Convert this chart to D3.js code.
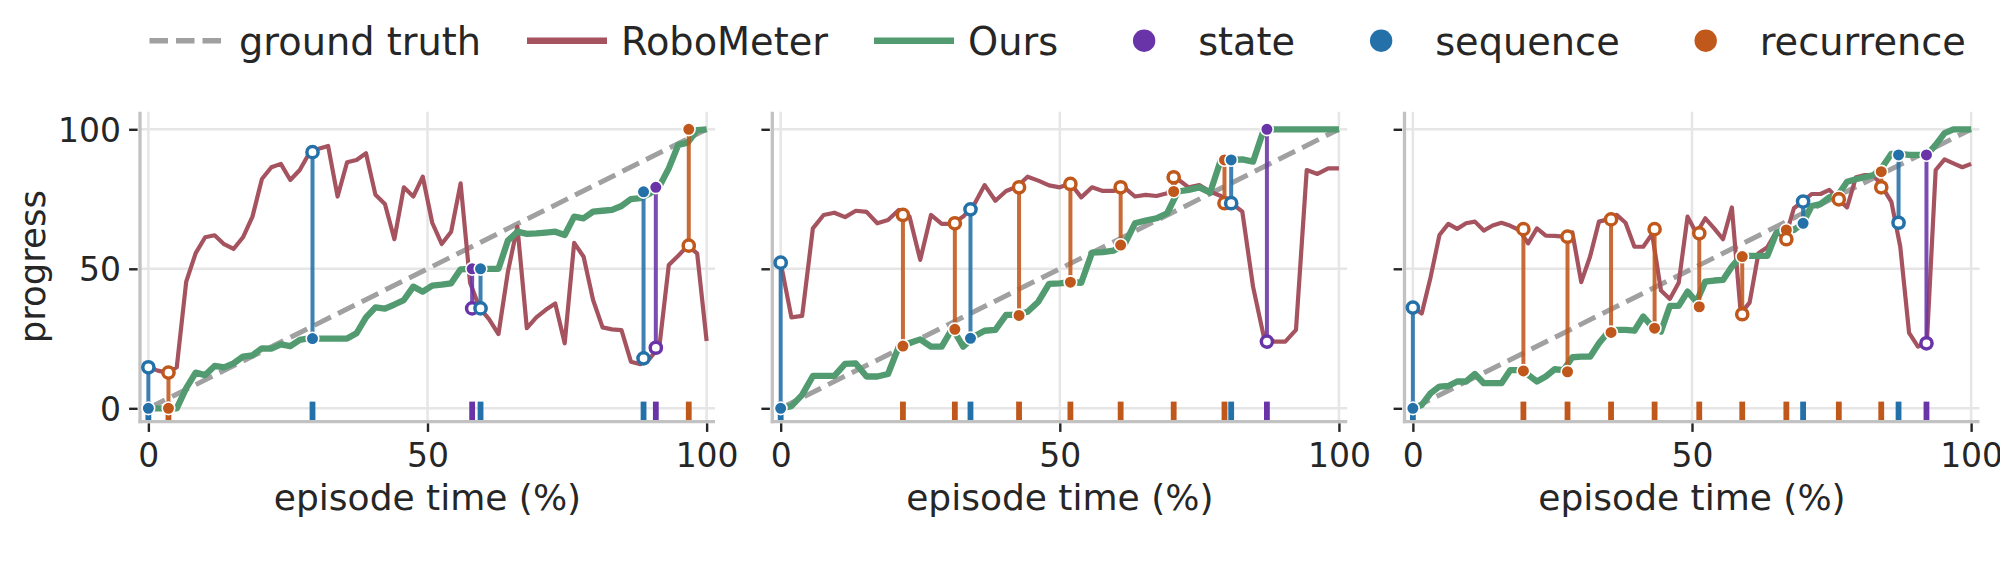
<!DOCTYPE html>
<html>
<head>
<meta charset="utf-8">
<script src="https://cdn.jsdelivr.net/npm/d3@7"></script>
<style>
  html, body { margin: 0; padding: 0; background: #fff; }
  svg { display: block; font-family: "DejaVu Sans", sans-serif; }
</style>
</head>
<body>
<svg id="chart" width="2000" height="564"></svg>
<script>
// tick values and legend labels
const xTicks = [0, 50, 100];
const yTicks = [0, 50, 100];
const legendLabels = ['ground truth', 'RoboMeter', 'Ours', 'state', 'sequence', 'recurrence'];

// episode 1 (60 evenly spaced samples over the episode)
const robo1 = [14.7, 13.5, 12.8, 14.7, 45.4, 55.6, 61.3, 62.0, 58.8, 57.1,
  61.3, 68.7, 82.2, 86.4, 87.6, 81.8, 85.4, 91.4, 93.0, 94.0,
  75.9, 88.2, 89.0, 91.4, 76.5, 73.2, 60.6, 79.2, 75.9, 83.0,
  66.5, 58.9, 63.3, 80.6, 45.0, 36.0, 32.0, 26.6, 49.0, 65.1,
  28.7, 32.6, 35.3, 37.6, 23.3, 59.3, 54.3, 38.8, 29.0, 28.3,
  28.0, 16.7, 15.8, 17.9, 22.0, 51.4, 54.7, 58.2, 55.5, 24.1];
const ours1 = [0, 0, 0, 0, 7.2, 12.8, 11.9, 15.2, 14.7, 16.1,
  18.5, 19.0, 21.5, 21.4, 22.9, 22.3, 24.5, 25.1, 25.0, 25.0,
  25.0, 25.0, 26.9, 32.6, 36.2, 35.7, 37.2, 38.8, 43.6, 41.8,
  44.0, 44.3, 44.8, 49.8, 50.0, 50.0, 50.0, 50.0, 60.1, 63.3,
  62.5, 62.7, 63.0, 63.3, 62.1, 68.7, 68.1, 70.5, 70.8, 71.1,
  72.5, 75.0, 75.3, 77.0, 79.5, 86.0, 94.4, 95.2, 99.7, 100];
const evKind1 = ['sequence', 'recurrence', 'sequence', 'state', 'sequence', 'sequence', 'state', 'recurrence'];
const evTime1 = [0, 3.6, 29.4, 58.0, 59.5, 88.7, 90.9, 96.8];
const evOurs1 = [0, 0, 25.0, 50.0, 50.0, 77.6, 79.2, 100];
const evRobo1 = [14.7, 12.8, 91.8, 35.8, 35.8, 17.9, 21.7, 58.3];

// episode 2 (53 samples)
const robo2 = [52.2, 32.6, 33.1, 64.5, 69.3, 70.1, 68.5, 70.8, 70.4, 66.3,
  67.5, 71.1, 68.7, 53.2, 69.3, 66.1, 66.1, 68.7, 72.9, 80.0,
  74.4, 77.9, 79.4, 83.0, 81.6, 79.9, 79.2, 80.6, 75.6, 79.2,
  77.9, 77.9, 79.2, 75.9, 76.5, 76.1, 77.1, 82.1, 79.2, 80.0,
  77.7, 76.1, 73.5, 70.5, 43.6, 25.7, 23.9, 23.9, 28.1, 85.4,
  84.0, 86.0, 86.0];
const ours2 = [0, 0.8, 4.8, 11.6, 11.6, 11.6, 15.9, 16.1, 11.4, 11.4,
  12.3, 22.1, 23.4, 24.7, 22.1, 22.1, 28.7, 22.1, 25.7, 27.8,
  28.1, 33.5, 33.5, 34.6, 38.2, 44.6, 44.8, 45.2, 45.0, 55.8,
  56.0, 56.5, 58.5, 66.3, 67.3, 68.1, 69.9, 77.7, 78.3, 79.2,
  77.3, 89.0, 89.0, 89.2, 88.4, 99.8, 100, 100, 100, 100,
  100, 100, 100];
const evKind2 = ['sequence', 'recurrence', 'recurrence', 'sequence', 'recurrence', 'recurrence',
  'recurrence', 'recurrence', 'recurrence', 'sequence', 'state'];
const evTime2 = [0, 21.9, 31.2, 34.0, 42.7, 51.9, 60.9, 70.4, 79.5, 80.7, 87.1];
const evOurs2 = [0, 22.3, 28.3, 25.1, 33.3, 45.2, 58.5, 77.7, 89.0, 89.0, 100];
const evRobo2 = [52.2, 69.3, 66.3, 71.3, 79.2, 80.4, 79.2, 82.8, 73.5, 73.5, 23.9];

// episode 3 (64 samples)
const robo3 = [36.1, 34.0, 47.0, 62.1, 66.1, 64.3, 66.3, 66.9, 63.7, 65.5,
  66.5, 65.4, 63.9, 59.1, 64.5, 61.9, 61.8, 61.5, 63.0, 45.2,
  54.4, 66.9, 67.7, 69.3, 66.5, 57.9, 57.9, 62.5, 42.2, 39.2,
  45.0, 68.7, 62.7, 68.1, 64.5, 60.6, 72.0, 34.0, 37.9, 55.6,
  57.7, 63.3, 60.9, 71.7, 74.1, 76.8, 76.8, 78.3, 74.9, 72.0,
  82.8, 83.6, 83.6, 79.2, 74.0, 58.0, 27.0, 22.1, 23.3, 85.4,
  89.2, 87.8, 86.4, 87.6];
const ours3 = [0, 1.2, 5.4, 7.8, 8.0, 9.6, 9.6, 12.3, 9.0, 9.0,
  9.0, 13.7, 13.7, 12.0, 9.6, 11.4, 14.0, 13.7, 18.3, 18.5,
  18.5, 23.3, 27.2, 28.1, 28.1, 27.8, 32.9, 29.3, 27.5, 36.7,
  36.7, 41.8, 38.2, 45.4, 45.8, 46.0, 50.8, 54.4, 54.6, 54.6,
  54.6, 62.7, 64.5, 63.9, 66.3, 72.5, 73.2, 75.6, 76.5, 81.2,
  82.1, 82.8, 83.6, 86.6, 91.2, 91.2, 90.8, 90.8, 90.8, 94.4,
  98.6, 100, 100, 100];
const evKind3 = ['sequence', 'recurrence', 'recurrence', 'recurrence', 'recurrence', 'recurrence',
  'recurrence', 'recurrence', 'sequence', 'recurrence', 'recurrence', 'sequence', 'state'];
const evTime3 = [0, 19.8, 27.7, 35.5, 43.3, 51.3, 59.0, 66.9, 69.9, 76.3, 83.9, 87.0, 92.0];
const evOurs3 = [0, 13.4, 13.1, 27.2, 28.7, 36.4, 54.4, 63.9, 66.3, 75.6, 84.8, 90.8, 90.8];
const evRobo3 = [36.1, 64.2, 61.5, 67.7, 64.2, 62.7, 33.7, 60.6, 74.1, 74.9, 79.2, 66.5, 23.3];


const colors = {
    'ground truth': '#a0a0a0',
    'RoboMeter': '#a65360',
    'Ours': '#529b70',
    'state': '#6934a8',
    'sequence': '#2470a9',
    'recurrence': '#c0571b'
};
const textColor = '#262626';

// layout
const panelLeft = [140, 772.3, 1404.5];
const panelTop = 111.7;
const panelW = 575;
const panelH = 310;

const x = d3.scaleLinear().domain([-1.5, 101.5]).range([0, panelW]);
const y = d3.scaleLinear().domain([-4.8, 106.3]).range([panelH, 0]);

// series are evenly sampled over episode time
const line = d3.line()
    .x((d, i, arr) => x(i * 100 / (arr.length - 1)))
    .y(d => y(d));

const episodes = [
    {robo: robo1, ours: ours1, kind: evKind1, time: evTime1, evOurs: evOurs1, evRobo: evRobo1},
    {robo: robo2, ours: ours2, kind: evKind2, time: evTime2, evOurs: evOurs2, evRobo: evRobo2},
    {robo: robo3, ours: ours3, kind: evKind3, time: evTime3, evOurs: evOurs3, evRobo: evRobo3}
];

const svg = d3.select('#chart');

episodes.forEach((ep, p) => {
    const g = svg.append('g')
        .attr('transform', `translate(${panelLeft[p]},${panelTop})`);

    // grid
    g.append('g').selectAll('line').data(yTicks).join('line')
        .attr('x1', 0).attr('x2', panelW)
        .attr('y1', d => y(d)).attr('y2', d => y(d))
        .attr('stroke', '#e6e6e6').attr('stroke-width', 2.5);
    g.append('g').selectAll('line').data(xTicks).join('line')
        .attr('x1', d => x(d)).attr('x2', d => x(d))
        .attr('y1', 0).attr('y2', panelH)
        .attr('stroke', '#e6e6e6').attr('stroke-width', 2.5);

    // spines
    g.append('line')
        .attr('x1', 0).attr('x2', 0).attr('y1', 0).attr('y2', panelH + 1.6)
        .attr('stroke', '#c2c2c2').attr('stroke-width', 3.3);
    g.append('line')
        .attr('x1', -1.6).attr('x2', panelW).attr('y1', panelH).attr('y2', panelH)
        .attr('stroke', '#c2c2c2').attr('stroke-width', 3.3);

    // axes
    const xAxis = g.append('g')
        .attr('transform', `translate(0,${panelH + 1.7})`)
        .call(d3.axisBottom(x).tickValues(xTicks).tickSize(8.5).tickPadding(12));
    const yAxis = g.append('g')
        .attr('transform', 'translate(-2.4,0)')
        .call(d3.axisLeft(y).tickValues(yTicks).tickSize(8.5).tickPadding(8)
            .tickFormat(d3.format('d')));
    [xAxis, yAxis].forEach(a => {
        a.select('.domain').remove();
        a.attr('font-family', null).attr('font-size', null);
        a.selectAll('.tick line').attr('stroke', textColor).attr('stroke-width', 2.4);
        a.selectAll('.tick text').attr('fill', textColor)
            .style('font-family', '"DejaVu Sans", sans-serif').style('font-size', '33px');
    });
    yAxis.selectAll('.tick text').attr('dy', '0.36em');
    // shared y axis: only the first panel keeps its labels
    if (p > 0) yAxis.selectAll('.tick text').remove();

    // x label
    g.append('text')
        .attr('x', panelW / 2).attr('y', 398.3)
        .attr('text-anchor', 'middle')
        .attr('fill', textColor)
        .style('font-size', '36px')
        .text('episode time (%)');

    // ground truth diagonal
    g.append('path')
        .datum([0, 100])
        .attr('d', line)
        .attr('fill', 'none')
        .attr('stroke', colors['ground truth'])
        .attr('stroke-width', 5)
        .attr('stroke-dasharray', '18.5,8');

    g.append('path')
        .datum(ep.robo)
        .attr('d', line)
        .attr('fill', 'none')
        .attr('stroke', colors['RoboMeter'])
        .attr('stroke-width', 4.2)
        .attr('stroke-linejoin', 'round');

    g.append('path')
        .datum(ep.ours)
        .attr('d', line)
        .attr('fill', 'none')
        .attr('stroke', colors['Ours'])
        .attr('stroke-width', 6.3)
        .attr('stroke-linejoin', 'round');

    const ev = ep.time.map((t, i) => ({t: t, kind: ep.kind[i], ours: ep.evOurs[i], robo: ep.evRobo[i]}));

    // rug of event times
    g.append('g').selectAll('line').data(ev).join('line')
        .attr('x1', d => x(d.t)).attr('x2', d => x(d.t))
        .attr('y1', y(-4.2)).attr('y2', y(2.4))
        .attr('stroke', d => colors[d.kind])
        .attr('stroke-width', 5.8);

    // stems
    g.append('g').selectAll('line').data(ev).join('line')
        .attr('x1', d => x(d.t)).attr('x2', d => x(d.t))
        .attr('y1', d => y(d.ours)).attr('y2', d => y(d.robo))
        .attr('stroke', d => colors[d.kind])
        .attr('stroke-opacity', 0.88)
        .attr('stroke-width', 4);

    const marks = g.append('g');
    ev.forEach(d => {
        marks.append('circle')
            .attr('cx', x(d.t)).attr('cy', y(d.ours)).attr('r', 6.3)
            .attr('fill', colors[d.kind])
            .attr('stroke', '#fff').attr('stroke-width', 1.6);
        marks.append('circle')
            .attr('cx', x(d.t)).attr('cy', y(d.robo)).attr('r', 5.6)
            .attr('fill', '#fff')
            .attr('stroke', colors[d.kind]).attr('stroke-width', 3.5);
    });
});

// y label
svg.append('text')
    .attr('transform', `translate(45,${panelTop + panelH * 0.5})rotate(-90)`)
    .attr('text-anchor', 'middle')
    .attr('fill', textColor)
    .style('font-size', '35.5px')
    .text('progress');

// legend, laid out left to right
const legend = svg.append('g').attr('transform', 'translate(0,40.7)');
let cursor = 145;
legendLabels.forEach((label, i) => {
    const item = legend.append('g');
    if (i < 3) {
        item.append('line')
            .attr('x1', cursor).attr('x2', cursor + 80)
            .attr('y1', 0).attr('y2', 0)
            .attr('stroke', colors[label])
            .attr('stroke-width', i === 0 ? 5.5 : 6.5)
            .attr('stroke-dasharray', i === 0 ? '18.5,8' : null)
            .attr('stroke-dashoffset', i === 0 ? 22 : null);
    } else {
        item.append('circle')
            .attr('cx', cursor + 40).attr('cy', 0).attr('r', 11.2)
            .attr('fill', colors[label]);
    }
    const txt = item.append('text')
        .attr('x', cursor + 94)
        .attr('y', 13.8)
        .attr('fill', textColor)
        .style('font-size', '38.3px')
        .text(label);
    cursor = cursor + 94 + txt.node().getComputedTextLength() + 46;
});
</script>
</body>
</html>
